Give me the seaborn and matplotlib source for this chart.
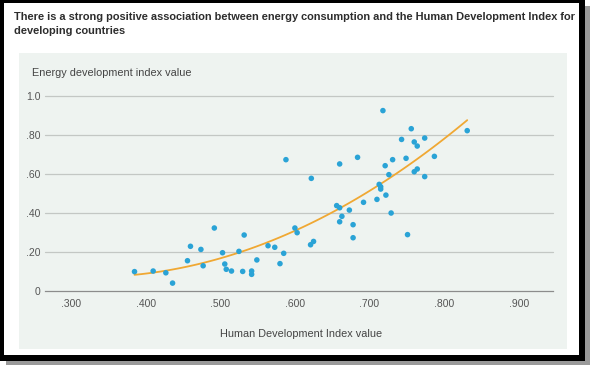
import numpy as np
import pandas as pd
import matplotlib
matplotlib.use("Agg")
import matplotlib.pyplot as plt
from matplotlib.patches import Rectangle
import seaborn as sns

# HDI value vs energy development index value
hdi = [0.385, 0.410, 0.427, 0.436, 0.456, 0.460, 0.474, 0.477, 0.492, 0.503,
       0.506, 0.508, 0.515, 0.525, 0.532, 0.530, 0.542, 0.542, 0.549, 0.564,
       0.573, 0.580, 0.585, 0.588, 0.600, 0.603, 0.622, 0.621, 0.625,
       0.660, 0.656, 0.660, 0.663, 0.660, 0.673, 0.678, 0.678, 0.684, 0.692,
       0.710, 0.713, 0.715, 0.715, 0.718, 0.721, 0.722, 0.726, 0.729, 0.731,
       0.743, 0.749, 0.751, 0.756, 0.760, 0.764, 0.760, 0.764, 0.774, 0.774,
       0.787, 0.831]
edi = [0.098, 0.101, 0.092, 0.039, 0.154, 0.228, 0.212, 0.128, 0.322, 0.195,
       0.137, 0.110, 0.101, 0.202, 0.286, 0.099, 0.101, 0.084, 0.158, 0.231,
       0.223, 0.139, 0.192, 0.673, 0.322, 0.298, 0.577, 0.236, 0.253,
       0.651, 0.437, 0.426, 0.382, 0.354, 0.414, 0.339, 0.272, 0.685, 0.454,
       0.469, 0.546, 0.534, 0.522, 0.925, 0.642, 0.491, 0.596, 0.399, 0.673,
       0.777, 0.680, 0.288, 0.832, 0.764, 0.743, 0.611, 0.625, 0.784, 0.586,
       0.690, 0.822]
x_ticks = [0.3, 0.4, 0.5, 0.6, 0.7, 0.8, 0.9]
x_labels = [".300", ".400", ".500", ".600", ".700", ".800", ".900"]
y_ticks = [0, 0.2, 0.4, 0.6, 0.8, 1.0]
y_labels = ["0", ".20", ".40", ".60", ".80", "1.0"]

df = pd.DataFrame({"hdi": hdi, "edi": edi})

sns.set_style("white")
plt.rcParams["font.family"] = ["Liberation Sans", "DejaVu Sans"]

W, H = 590, 369
fig = plt.figure(figsize=(W / 100, H / 100), dpi=100)
fig.patch.set_facecolor("white")


def box(x0, y0, x1, y1, color, z):
    fig.patches.append(Rectangle((x0 / W, 1 - y1 / H), (x1 - x0) / W, (y1 - y0) / H,
                                 transform=fig.transFigure, facecolor=color,
                                 edgecolor="none", zorder=z))


# frame with shadow, white card, light panel
box(6, 6, 590, 365, "#9a9a9a", -5)
box(0, 0, 585, 361, "black", -4)
box(4, 3, 579, 355, "white", -3)
box(19, 53, 567, 349, "#eef3f0", -2)

ax = fig.add_axes([45 / W, 1 - 290.7 / H, (553 - 45) / W, (290.7 - 96) / H])
ax.set_facecolor("none")

sns.regplot(data=df, x="hdi", y="edi", order=2, ci=None, scatter=False, ax=ax,
            line_kws=dict(color="#f0a833", lw=1.3, zorder=2))
sns.scatterplot(data=df, x="hdi", y="edi", ax=ax, color="#2aa3d6", s=16,
                edgecolor="none", zorder=3)

ax.set_xlim(0.265, 0.946)
ax.set_ylim(0, 1.0)
ax.set_xticks(x_ticks, x_labels)
ax.set_yticks(y_ticks, y_labels)
for y in y_ticks[1:]:
    ax.axhline(y, color="#c3c7c4", lw=0.9, zorder=1, clip_on=False)
for s in ["top", "right", "left"]:
    ax.spines[s].set_visible(False)
ax.spines["bottom"].set_color("#8c8c8c")
ax.spines["bottom"].set_linewidth(0.9)
ax.tick_params(axis="x", direction="in", length=4, width=0.8, color="#8c8c8c",
               labelsize=7.5, labelcolor="#555555", pad=6)
ax.tick_params(axis="y", length=0, labelsize=7.5, labelcolor="#555555", pad=3)
ax.set_xlabel("")
ax.set_ylabel("")

fig.text(32 / W, 1 - 73 / H, "Energy development index value", fontsize=7.8,
         color="#444444", va="center", ha="left")
fig.text(301 / W, 1 - 334 / H, "Human Development Index value", fontsize=7.8,
         color="#444444", va="center", ha="center")
fig.text(14 / W, 1 - 12 / H,
         "There is a strong positive association between energy consumption and the Human Development Index for\ndeveloping countries",
         fontsize=7.9, fontweight="bold", color="#2d2d2d", va="top", ha="left",
         linespacing=1.45)

fig.savefig("out.png", dpi=100)
